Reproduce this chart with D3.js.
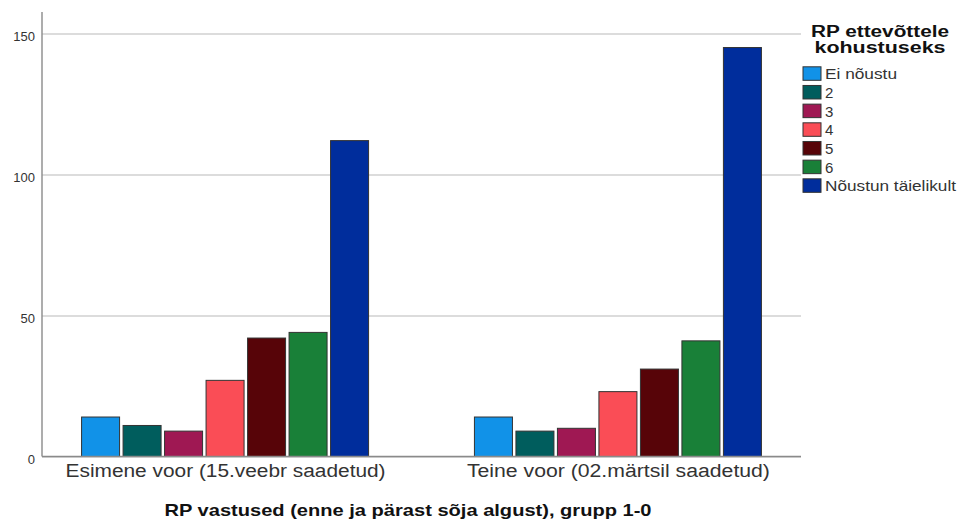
<!DOCTYPE html>
<html>
<head>
<meta charset="utf-8">
<script src="https://cdn.jsdelivr.net/npm/d3@7"></script>
<style>
  html, body { margin: 0; padding: 0; background: #ffffff; }
  svg { display: block; }
  text { font-family: "Liberation Sans", Arial, sans-serif; }
</style>
</head>
<body>
<svg id="chart" width="961" height="520"></svg>
<script>
// ---- data ----
const categories = ["Esimene voor (15.veebr saadetud)", "Teine voor (02.märtsil saadetud)"];
const seriesNames = ["Ei nõustu", "2", "3", "4", "5", "6", "Nõustun täielikult"];
const seriesColors = ["#1192e8", "#005d5d", "#9f1853", "#fa4d56", "#570408", "#198038", "#002d9c"];
const valuesEsimene = [14, 11, 9, 27, 42, 44, 112];
const valuesTeine = [14, 9, 10, 23, 31, 41, 145];
const yTicks = [0, 50, 100, 150];
const xTitle = "RP vastused (enne ja pärast sõja algust), grupp 1-0";
const legendTitle = ["RP ettevõttele", "kohustuseks"];

const valuesByCategory = [valuesEsimene, valuesTeine];
const table = [];
categories.forEach((c, i) => {
  seriesNames.forEach((s, j) => table.push({ cat: c, series: s, value: valuesByCategory[i][j] }));
});

// ---- layout ----
const svg = d3.select("#chart");
const pLeft = 42, pRight = 801, pTop = 12, pBottom = 456.5;

const x = d3.scalePoint().domain(categories).range([pLeft, pRight]).padding(0.466);
const inner = d3.scaleBand().domain(seriesNames).range([-143.5, 143.5]).paddingInner(0.084);
const y = d3.scaleLinear().domain([0, 157.6]).range([pBottom, pTop]);
const color = d3.scaleOrdinal().domain(seriesNames).range(seriesColors);

// gridlines + y labels via axis
const yAxis = d3.axisLeft(y).tickValues(yTicks).tickSize(-(pRight - pLeft)).tickPadding(7).tickFormat(d3.format("d"));
const gy = svg.append("g").attr("transform", `translate(${pLeft},0)`).call(yAxis);
gy.select(".domain").remove();
gy.selectAll(".tick line").attr("stroke", "#d0d0d0").attr("stroke-width", 1.4);
gy.selectAll(".tick text")
  .attr("fill", "#333")
  .attr("font-size", 13)
  .attr("dy", "0.55em")
  .attr("font-family", "Liberation Sans, Arial, sans-serif");

// bars
svg.append("g").selectAll("rect").data(table).join("rect")
  .attr("x", d => x(d.cat) + inner(d.series))
  .attr("y", d => y(d.value))
  .attr("width", inner.bandwidth())
  .attr("height", d => y(0) - y(d.value))
  .attr("fill", d => color(d.series))
  .attr("stroke", "#333")
  .attr("stroke-width", 1);

// axis lines
svg.append("line").attr("x1", pLeft).attr("x2", pLeft).attr("y1", pTop).attr("y2", pBottom)
  .attr("stroke", "#8a8a8a").attr("stroke-width", 1.4);
svg.append("line").attr("x1", pLeft).attr("x2", pRight).attr("y1", pBottom).attr("y2", pBottom)
  .attr("stroke", "#8a8a8a").attr("stroke-width", 1.4);

// x axis labels
const xAxis = d3.axisBottom(x).tickSize(0).tickPadding(8);
const gx = svg.append("g").attr("transform", `translate(0,${pBottom})`).call(xAxis);
gx.select(".domain").remove();
const xLabelWidths = [320, 303];
gx.selectAll(".tick text")
  .attr("fill", "#333")
  .attr("font-size", 18)
  .attr("font-family", "Liberation Sans, Arial, sans-serif")
  .attr("textLength", (d, i) => xLabelWidths[i])
  .attr("lengthAdjust", "spacingAndGlyphs");

// x title
svg.append("text")
  .attr("x", 408).attr("y", 516)
  .attr("text-anchor", "middle")
  .attr("font-size", 17).attr("font-weight", "bold").attr("fill", "#111")
  .attr("textLength", 487).attr("lengthAdjust", "spacingAndGlyphs")
  .text(xTitle);

// legend
const lg = svg.append("g");
const titleWidths = [138, 131];
lg.selectAll("text.lt").data(legendTitle).join("text")
  .attr("class", "lt")
  .attr("x", 880).attr("y", (d, i) => 37 + i * 16)
  .attr("text-anchor", "middle")
  .attr("font-size", 16).attr("font-weight", "bold").attr("fill", "#111")
  .attr("textLength", (d, i) => titleWidths[i]).attr("lengthAdjust", "spacingAndGlyphs")
  .text(d => d);

const ly = d3.scaleBand().domain(seriesNames).range([64.8, 64.8 + 18.67 * 7]);
const items = lg.selectAll("g.item").data(seriesNames).join("g")
  .attr("class", "item")
  .attr("transform", d => `translate(803,${ly(d)})`);
items.append("rect")
  .attr("x", 0).attr("y", 2).attr("width", 18).attr("height", 13.5)
  .attr("fill", d => color(d)).attr("stroke", "#333").attr("stroke-width", 1);
const legendWidths = { "Ei nõustu": 72, "Nõustun täielikult": 131 };
items.append("text")
  .attr("x", 22).attr("y", 14.5)
  .attr("font-size", 15).attr("fill", "#333")
  .each(function (d) {
    const t = d3.select(this);
    if (legendWidths[d]) t.attr("textLength", legendWidths[d]).attr("lengthAdjust", "spacingAndGlyphs");
  })
  .text(d => d);
</script>
</body>
</html>
